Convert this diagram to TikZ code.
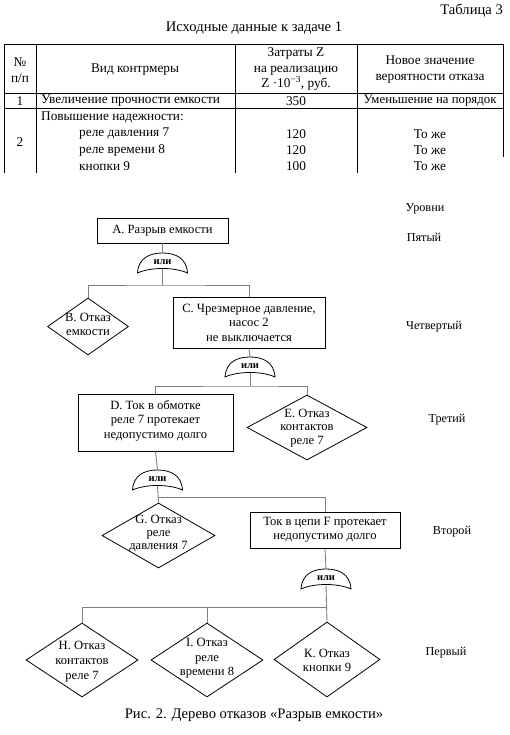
\documentclass[tikz,border=0pt]{standalone}
\usepackage{fontspec}
\setmainfont{Liberation Serif}
\usetikzlibrary{shapes.geometric}
\tikzset{
  px/.style={x=1pt,y=-1pt},
  tline/.style={line width=0.8pt,black},
  tx/.style={inner sep=0pt,anchor=center,font=\fontsize{13.3}{15.5}\selectfont,align=center},
  txl/.style={inner sep=0pt,anchor=west,font=\fontsize{13.3}{15.5}\selectfont},
  titl/.style={inner sep=0pt,font=\fontsize{14.6}{16}\selectfont},
  boxnode/.style={draw,line width=0.8pt,rectangle,inner sep=0pt,minimum width=#1},
  diam/.style={draw,line width=0.8pt,diamond,inner sep=0pt,shape aspect=1},
  ftxt/.style={inner sep=0pt,anchor=center,align=center,font=\fontsize{12.6}{14.5}\selectfont},
  conn/.style={line width=0.9pt,draw=black!50},
  gatestyle/.style={line width=0.8pt,black,fill=white},
  gatetext/.style={inner sep=0pt,font=\bfseries\fontsize{10.5}{11}\selectfont},
  lvl/.style={inner sep=0pt,anchor=center,font=\fontsize{12.2}{14}\selectfont},
}
\newcommand\myorgate[3]{%
  \begin{scope}[shift={(#2,#3)}]
    \draw[gatestyle] (-25,20) .. controls (-24,5) and (-13,0) .. (0,0)
      .. controls (13,0) and (24,5) .. (25,20)
      .. controls (12,14) and (-12,14) .. (-25,20) -- cycle;
    \node[gatetext] (#1) at (0,9.5) {или};
    \coordinate (#1t) at (0,0);
    \coordinate (#1b) at (0,16);
  \end{scope}}
\begin{document}
\begin{tikzpicture}[px]
\useasboundingbox[fill=white] (0,0) rectangle (510,735);
% ---------- table caption ----------
\node[titl,anchor=east] (tabno) at (503,11) {Таблица 3};
\node[titl,anchor=center] (tabtitle) at (254,28) {Исходные данные к задаче 1};
% ---------- table grid ----------
\draw[tline] (4,44) -- (503,44);
\draw[tline] (4,93) -- (503,93);
\draw[tline] (4,108) -- (503,108);
\draw[tline] (4,44) -- (4,173);
\draw[tline] (36,44) -- (36,173);
\draw[tline] (235,44) -- (235,173);
\draw[tline] (357,44) -- (357,173);
\draw[tline] (503,44) -- (503,157);
% ---------- header ----------
\node[tx] (h1) at (20,70) {№\\п/п};
\node[tx] (h2) at (135,70) {Вид контрмеры};
\node[tx] (h3) at (296,69.5) {Затраты Z\\на реализацию\\Z ·10\textsuperscript{−3}, руб.};
\node[tx] (h4) at (430,69.5) {Новое значение\\вероятности отказа};
% ---------- row 1 ----------
\node[tx] (r1a) at (20,101) {1};
\node[txl] (r1b) at (41,101) {Увеличение прочности емкости};
\node[tx] (r1c) at (296,101) {350};
\node[tx,font=\fontsize{12.8}{15}\selectfont] (r1d) at (430,101) {Уменьшение на порядок};
% ---------- row 2 ----------
\node[tx] (r2a) at (20,142) {2};
\node[txl] (r2b) at (41,117.5) {Повышение надежности:};
\node[txl] (r2b1) at (79,134) {реле давления 7};
\node[txl] (r2b2) at (79,150) {реле времени 8};
\node[txl] (r2b3) at (79,166) {кнопки 9};
\node[tx] (r2c1) at (296,134) {120};
\node[tx] (r2c2) at (296,150) {120};
\node[tx] (r2c3) at (296,166) {100};
\node[tx] (r2d1) at (430,134) {То же};
\node[tx] (r2d2) at (430,150) {То же};
\node[tx] (r2d3) at (430,166) {То же};
% ---------- levels ----------
\node[lvl] (L0) at (425,209) {Уровни};
\node[lvl] (L5) at (424,237) {Пятый};
\node[lvl] (L4) at (434,327) {Четвертый};
\node[lvl] (L3) at (447,420) {Третий};
\node[lvl] (L2) at (452,532) {Второй};
\node[lvl] (L1) at (446,653) {Первый};
% ---------- events ----------
\node[boxnode=131pt,minimum height=25pt] (A) at (162.5,230.5) {};
\node[ftxt] (At) at (162.5,230.5) {А. Разрыв емкости};
\node[diam,minimum width=81pt,minimum height=57pt] (B) at (88,326.5) {};
\node[ftxt] (Bt) at (88,324.5) {В. Отказ\\емкости};
\node[boxnode=152pt,minimum height=51pt] (C) at (249,322.5) {};
\node[ftxt] (Ct) at (249,322.5) {С. Чрезмерное давление,\\насос 2\\не выключается};
\node[boxnode=155pt,minimum height=57pt] (D) at (155.5,422.5) {};
\node[ftxt] (Dt) at (155.5,420.5) {D. Ток в обмотке\\реле 7 протекает\\недопустимо долго};
\node[diam,minimum width=120pt,minimum height=65pt] (E) at (307,427.5) {};
\node[ftxt,font=\fontsize{12.6}{13.5}\selectfont] (Et) at (307,428) {Е. Отказ\\контактов\\реле 7};
\node[diam,minimum width=113pt,minimum height=65pt] (G) at (158.5,535.5) {};
\node[ftxt,font=\fontsize{12.6}{13}\selectfont] (Gt) at (158.5,534) {G. Отказ\\реле\\давления 7};
\node[boxnode=150pt,minimum height=36pt] (F) at (325,530) {};
\node[ftxt,font=\fontsize{12.6}{14}\selectfont] (Ft) at (325,530) {Ток в цепи F протекает\\недопустимо долго};
\node[diam,minimum width=112pt,minimum height=74pt] (H) at (82,660) {};
\node[ftxt,font=\fontsize{12.6}{15}\selectfont] (Ht) at (82,662) {Н. Отказ\\контактов\\реле 7};
\node[diam,minimum width=112pt,minimum height=74pt] (I) at (207,660) {};
\node[ftxt] (It) at (207,658.5) {I. Отказ\\реле\\времени 8};
\node[diam,minimum width=106pt,minimum height=75pt] (K) at (327,659.5) {};
\node[ftxt,font=\fontsize{12.6}{14}\selectfont] (Kt) at (327,660) {К. Отказ\\кнопки 9};
% ---------- gates ----------
\myorgate{g1}{162.5}{253}
\myorgate{g2}{250}{357}
\myorgate{g3}{157.5}{470}
\myorgate{g4}{326}{569}
% ---------- junctions ----------
\coordinate (j1) at (162.5,285);
\coordinate (j2) at (250,386);
\coordinate (j3) at (157.5,497);
\coordinate (j4) at (326,607);
% ---------- connectors ----------
\draw[conn] (A.south) -- (g1t);
\draw[conn] (g1b) -- (j1);
\draw[conn] (B.north) |- (j1) -| (C.north);
\draw[conn] (C.south) -- (g2t);
\draw[conn] (g2b) -- (j2);
\draw[conn] (D.north) |- (j2) -| (E.north);
\draw[conn] (D.south) -- (g3t);
\draw[conn] (g3b) -- (G.north);
\draw[conn] (j3) -| (F.north);
\draw[conn] (F.south) -- (g4t);
\draw[conn] (g4b) -- (K.north);
\draw[conn] (H.north) |- (j4);
\draw[conn] (I.north) -- (I.north |- j4);
% ---------- caption ----------
\node[titl,anchor=center] (cap) at (254,715) {Рис. 2. Дерево отказов «Разрыв емкости»};
\end{tikzpicture}
\end{document}
